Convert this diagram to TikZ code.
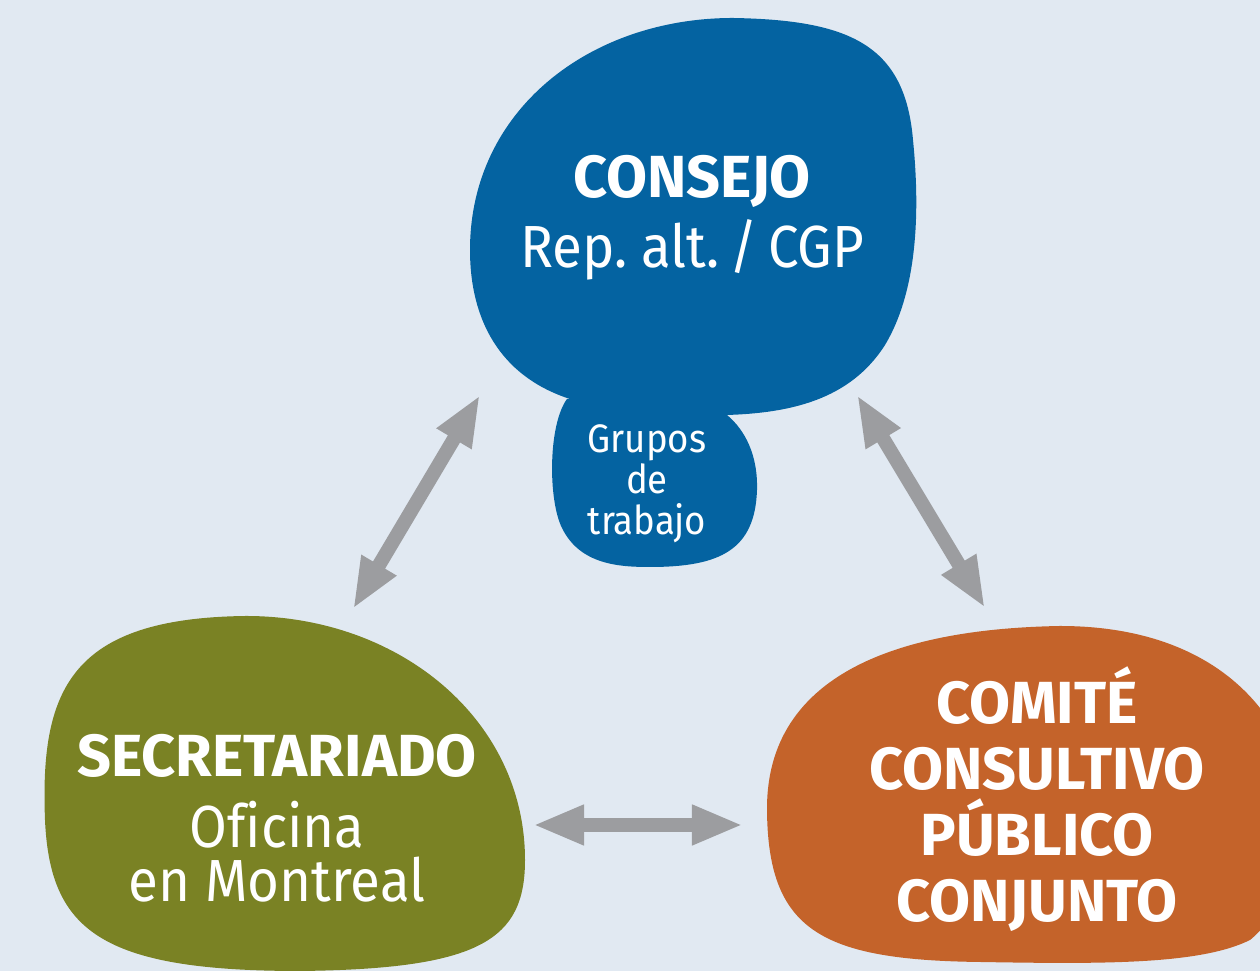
\documentclass[tikz,border=0pt]{standalone}
\usepackage{fontspec}
\setmainfont{Fira Sans}[UprightFeatures={FakeStretch=0.92},Ligatures=NoCommon]
\usetikzlibrary{arrows.meta}
\definecolor{bgblue}{HTML}{E1E9F2}
\definecolor{consejoblue}{HTML}{0463A1}
\definecolor{secgreen}{HTML}{7A8224}
\definecolor{comiorange}{HTML}{C4632A}
\definecolor{arrowgray}{HTML}{9C9DA0}

\begin{document}
\begin{tikzpicture}[x=0.01cm,y=-0.01cm]
\fill[bgblue] (0,0) rectangle (1260,971);
\useasboundingbox (0,0) rectangle (1260,971);

\begin{scope}
    \clip (0,0) rectangle (1260,971);
    % consejo
    \fill[consejoblue] (733,18) .. controls (850,20) and (905,45) .. (913,140)
        .. controls (920,210) and (918,290) .. (885,345)
        .. controls (850,400) and (790,413) .. (727,415)
        .. controls (680,418) and (600,410) .. (567,398)
        .. controls (500,375) and (470,320) .. (470,250)
        .. controls (470,110) and (590,18) .. (733,18) -- cycle;
    % grupos de trabajo
    \fill[consejoblue] (567,399) .. controls (548,425) and (548,500) .. (562,528)
        .. controls (580,565) and (620,567) .. (650,567)
        .. controls (720,567) and (755,550) .. (757,490)
        .. controls (758,455) and (745,430) .. (727,415)
        -- (650,400) -- cycle;
    % secretariado
    \fill[secgreen] (246,616) .. controls (400,616) and (525,720) .. (525,860)
        .. controls (525,940) and (480,969) .. (300,971)
        .. controls (100,971) and (50,930) .. (45,820)
        .. controls (40,690) and (70,618) .. (246,616) -- cycle;
    % comite
    \fill[comiorange] (1060,626) .. controls (1170,626) and (1240,670) .. (1275,730)
        .. controls (1300,800) and (1300,900) .. (1250,940)
        .. controls (1200,965) and (1100,964) .. (980,962)
        .. controls (820,960) and (768,930) .. (767,810)
        .. controls (766,650) and (950,628) .. (1060,626) -- cycle;
\end{scope}

\begin{scope}[every node/.style={text=white,align=center,anchor=base,inner sep=0pt}]
    \node[font=\bfseries\fontsize{16.9}{23}\selectfont] (consejo) at (692,198) {CONSEJO};
    \node[font=\fontsize{16.9}{23}\selectfont] (repalt) at (692,268) {Rep.\ alt.\,/\,CGP};
    \node[font=\fontsize{11.3}{11.7}\selectfont] (grupos) at (647,535) {Grupos\\de\\trabajo};
    \node[font=\bfseries\fontsize{16.9}{23}\selectfont] (secretariado) at (277,777) {SECRETARIADO};
    \node[font=\fontsize{16.9}{15.6}\selectfont] (oficina) at (277,902) {Oficina\\en Montreal};
    \node[font=\bfseries\fontsize{16.9}{18.8}\selectfont] (comite) at (1037,922) {COMITÉ\\CONSULTIVO\\PÚBLICO\\CONJUNTO};
\end{scope}

\coordinate (cons-l) at (480,395);
\coordinate (secr-t) at (353,609);
\coordinate (cons-r) at (857,395);
\coordinate (comi-t) at (985,608);
\coordinate (secr-r) at (533,825);
\coordinate (comi-l) at (743,825);

\begin{scope}[every edge/.style={draw=arrowgray,line width=4pt,
              {Triangle[length=5.1mm,width=3.7mm]}-{Triangle[length=5.1mm,width=3.7mm]}}]
    \path (cons-l) edge (secr-t);
    \path (cons-r) edge (comi-t);
    \path (secr-r) edge (comi-l);
\end{scope}
\end{tikzpicture}
\end{document}
